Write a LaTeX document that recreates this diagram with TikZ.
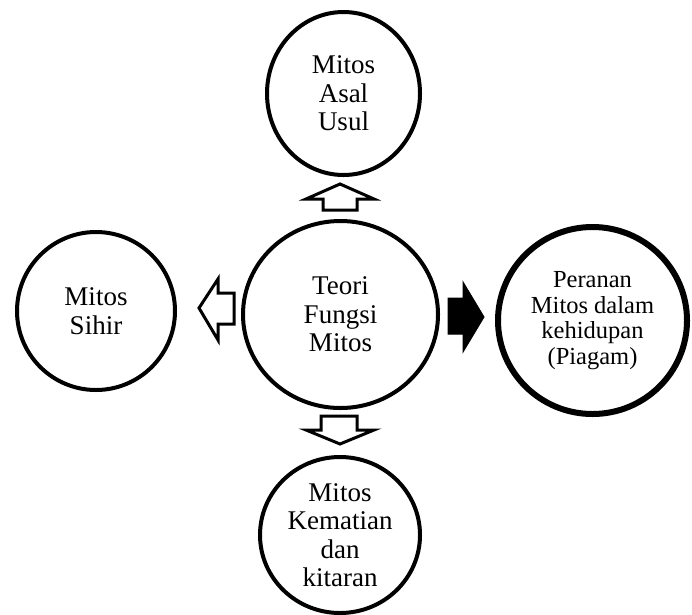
\documentclass[tikz,border=0pt]{standalone}
\usepackage{fontspec}
\setmainfont{Liberation Serif}
\usetikzlibrary{shapes.geometric}
\tikzset{
  bub/.style={ellipse, draw=black, line width=4pt, fill=white, align=center, inner sep=0pt,
    font=\fontsize{27}{28.5}\selectfont},
  bubthick/.style={bub, line width=6pt, font=\fontsize{24.5}{25.5}\selectfont},
  blockarrow/.style={draw=black, line width=3pt, line join=miter, fill=white},
  blockarrowfill/.style={draw=black, line width=1pt, fill=black}
}
\begin{document}
\begin{tikzpicture}[x=1pt,y=-1pt]
\useasboundingbox (0,0) rectangle (692,614);
\node[bub, minimum width=195pt, minimum height=187pt] (center) at (340.5,314.5) {Teori\\Fungsi\\Mitos};
\node[bub, minimum width=153pt, minimum height=163pt] (top) at (343.5,93.5) {Mitos\\Asal\\Usul};
\node[bub, minimum width=158pt, minimum height=158pt] (left) at (96,311) {Mitos\\Sihir};
\node[bubthick, minimum width=189pt, minimum height=187pt] (right) at (592.5,320.5) {Peranan\\Mitos dalam\\kehidupan\\(Piagam)};
\node[bub, minimum width=160pt, minimum height=156pt] (bottom) at (340,535) {Mitos\\Kematian\\dan\\kitaran};
% block arrows
\draw[blockarrow] (340,184) -- (374,199) -- (357,199) -- (357,210) -- (323,210) -- (323,199) -- (306,199) -- cycle;
\draw[blockarrow] (321,416) -- (357,416) -- (357,430) -- (374,430) -- (340,444) -- (306,430) -- (321,430) -- cycle;
\draw[blockarrow] (199,308) -- (218,279) -- (218,293) -- (234,293) -- (234,324) -- (218,324) -- (218,340) -- cycle;
\draw[blockarrowfill] (448,298) -- (463,298) -- (463,282) -- (484,317) -- (463,352) -- (463,334) -- (448,334) -- cycle;
\end{tikzpicture}
\end{document}
